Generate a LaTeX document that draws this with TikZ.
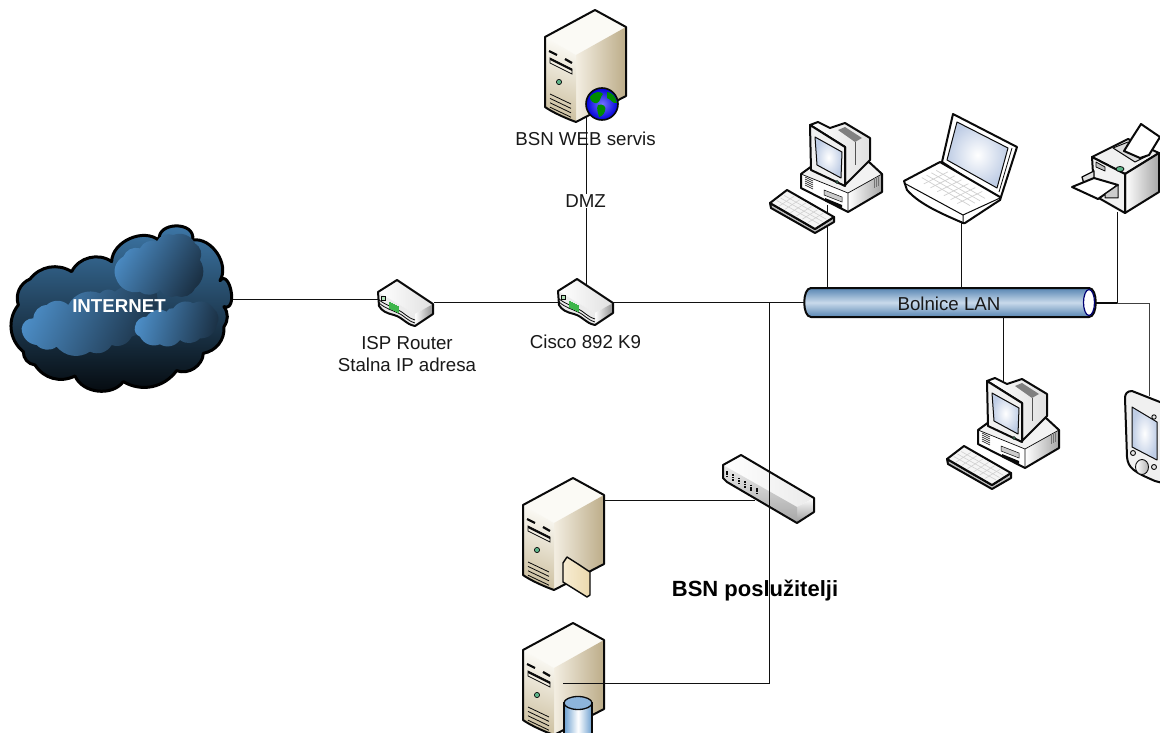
\documentclass[tikz,border=0pt]{standalone}
\usepackage{fontspec}
\setmainfont{Liberation Sans}
\usetikzlibrary{calc}
\definecolor{ink}{HTML}{0A0A0A}
\definecolor{wire}{HTML}{111111}
\definecolor{beigeA}{HTML}{FBFAF5}
\definecolor{beigeB}{HTML}{F3EEE2}
\definecolor{beigeC}{HTML}{CDC0A0}
\definecolor{beigeD}{HTML}{BCAC88}
\definecolor{skyA}{HTML}{4C8DC6}
\definecolor{skyB}{HTML}{1B3145}
\definecolor{cloudTop}{HTML}{3E79AA}
\definecolor{cloudBot}{HTML}{04080B}
\definecolor{lanEdge}{HTML}{5785B2}
\definecolor{lanMid}{HTML}{C9DAEB}
\definecolor{keyLine}{HTML}{D0D0D0}
\definecolor{screenBlue}{HTML}{BFCDE5}
\definecolor{ledGreen}{HTML}{5FB58A}
\definecolor{portGreen}{HTML}{3DB54A}
\definecolor{folderA}{HTML}{F7ECD2}
\definecolor{folderB}{HTML}{EBD9AE}
\definecolor{dbBlue}{HTML}{6C9FCF}
\definecolor{dbTop}{HTML}{8DB5DC}
\tikzset{
  conn/.style={draw=wire,line width=1pt},
  outl/.style={draw=ink,line width=2pt,line join=round},
  thin outl/.style={draw=ink,line width=1pt,line join=round},
  lbl/.style={font=\fontsize{18.7pt}{22.5pt}\selectfont,inner sep=0pt,text=black!90},
  bold lbl/.style={font=\fontsize{18.7pt}{22pt}\selectfont\bfseries,inner sep=0pt},
  hub/.style={inner sep=0pt,minimum size=0pt},
  lobes/.style={bend left=42},
  serverbody/.pic={
    \fill[beigeA] (545,37)--(595,10)--(626,27)--(576,55)--cycle;
    \path[left color=beigeB,right color=beigeD] (576,55)--(626,27)--(626,96)--(576,122)--cycle;
    \path[top color=beigeA,bottom color=beigeC,shading angle=-20] (545,37)--(576,55)--(576,122) .. controls (565,118) and (552,112) .. (545,107)--cycle;
    \draw[outl] (545,37)--(595,10)--(626,27)--(626,96)--(576,122) .. controls (565,118) and (552,112) .. (545,107)--cycle;
    \draw[line width=2.2pt,ink] (549,51)--(557,55) (565,59)--(572,63);
    \draw[fill=beigeB,draw=ink,line width=.8pt] (550,58)--(572,69)--(572,74)--(550,63)--cycle;
    \fill[ink] (550,58)--(572,69)--(572,71)--(550,60)--cycle;
    \draw[draw=ink,fill=ledGreen,line width=.7pt] (559,82) circle (2.6);
    \foreach \i in {0,4.4,8.8,13.2} \draw[ink,line width=.8pt] (550,94+\i)--(571,104+\i);
  },
  routerbox/.pic={
    \path[left color=white,right color=black!12] (558,291)--(577,279)--(613,303)--(595,313)--cycle;
    \path[left color=white,right color=black!45] (595,313)--(613,303)--(613,313)--(595,325)--cycle;
    \path[fill=black!8] (558,291)--(595,313)--(595,325)
      .. controls (585,323) and (584,315) .. (574,313) .. controls (566,312) and (562,310) .. (559,305)--cycle;
    \draw[outl] (558,291)--(577,279)--(613,303)--(613,313)--(595,325)
      .. controls (585,323) and (584,317) .. (574,314) .. controls (566,312) and (562,310) .. (559,305)--cycle;
    \draw[ink,line width=.8pt] (559,299) .. controls (566,304) and (572,306) .. (578,309) .. controls (585,312) and (586,316) .. (595,319);
    \draw[ink,line width=.8pt] (559,302) .. controls (566,308) and (572,309) .. (578,312) .. controls (585,315) and (586,319) .. (595,322);
    \draw[ink,fill=portGreen!40,line width=.6pt] (561,295) rectangle (565,299);
    \foreach \i in {0,2,4,6,8} \draw[portGreen,line width=1.1pt] (570+\i,301+\i*.5)--(570+\i,308+\i*.5);
  },
  pcset/.pic={
    % base
    \fill[black!5] (801,174)--(812,166)--(869,162)--(882,174)--(848,193)--cycle;
    \path[left color=white,right color=black!35] (848,193)--(882,174)--(882,192)--(848,212)--cycle;
    \fill[white] (801,174)--(848,193)--(848,212)--(801,188)--cycle;
    \draw[outl] (801,174)--(812,166)--(869,162)--(882,174)--(882,192)--(848,212)--(801,188)--cycle;
    \draw[ink,line width=.7pt] (801,174)--(848,193)--(848,212) (848,193)--(882,174);
    \foreach \i in {0,2,4,6,8} \draw[ink,line width=.6pt] (805,177+\i)--(813,181+\i);
    \draw[ink,fill=black!20,line width=.5pt] (824,190)--(842,197)--(842,202)--(824,195)--cycle;
    \fill[ink] (825,198)--(842,205)--(842,208)--(825,201)--cycle;
    \foreach \i in {0,2,4} \draw[black!55,line width=.9pt] (874+\i,178-\i*.5)--(874+\i,188-\i*.5);
    % monitor
    \draw[outl,left color=white,right color=black!12] (845,147)--(810,125)--(818,122)--(830,128)--(845,123)--(870,138)--(870,160)--(845,185)--cycle;
    \fill[black!50] (838,130)--(845,127)--(862,138)--(855,142)--cycle;
    \draw[ink!70,line width=.8pt] (855,142)--(855,165);
    \draw[outl,fill=black!6] (810,125)--(845,147)--(845,186)--(811,170)--cycle;
    \draw[thin outl,inner color=white,outer color=screenBlue] (815,137)--(842,152)--(841,178)--(817,165)--cycle;
    \draw[ink,fill=ledGreen!70!black,line width=.5pt] (837,182) circle (1.6);
    % keyboard
    \draw[outl,fill=black!25] (770,203)--(815,229)--(834,217)--(834,222)--(815,233)--(771,208)--cycle;
    \draw[outl,fill=black!4] (770,203)--(787,190)--(834,217)--(815,229)--cycle;
    \foreach \t in {.25,.5,.75}
      \draw[keyLine,line width=.6pt] ($(773,203)!\t!(788,193)$)--($(815,226)!\t!(830,217)$);
    \foreach \t in {.14,.28,.42,.56,.70,.84}
      \draw[keyLine,line width=.6pt] ($(773,203)!\t!(815,226)$)--($(788,193)!\t!(830,217)$);
  }
}
\begin{document}
\begin{tikzpicture}[x=1pt,y=-1pt]
\path[use as bounding box,fill=white] (0,0) rectangle (1160,733);

% anchors of the connectors
\coordinate (cloudE) at (233,299);
\coordinate (r1W) at (378,299);
\coordinate (r1E) at (434,302);
\coordinate (r2W) at (558,302);
\coordinate (r2E) at (613,302);
\coordinate (r2N) at (586,285);
\coordinate (webS) at (586,117);
\coordinate (lanW) at (805,302);
\coordinate (lanE) at (1096,303);
\coordinate (jA) at (769,302);
\coordinate (jB) at (769,683);
\coordinate (dbE) at (563,683);
\coordinate (srvE) at (604,500);
\coordinate (swW) at (755,500);
\coordinate (pcAS) at (827,205);
\coordinate (lanA) at (827,289);
\coordinate (lapS) at (961,221);
\coordinate (lanB) at (961,289);
\coordinate (prnS) at (1117,212);
\coordinate (jC) at (1117,303);
\coordinate (jD) at (1149,303);
\coordinate (pdaN) at (1149,396);
\coordinate (lanC) at (1003,317);
\coordinate (pcBN) at (1003,382);

\draw[conn] (pcAS)--(lanA);

% ---- cloud
\begin{scope}[shift={(0,210)},x=.3333pt,y=-.3333pt]
  \draw[line width=3pt,draw=black,line join=round,top color=cloudTop,bottom color=cloudBot]
    (55,285) to[lobes] (90,207) to[lobes] (215,185) to[bend left=50] (335,155) to[bend left=65] (478,92)
    to[out=100,in=80,looseness=1.5] (578,90) to[bend left=65] (660,212) to[out=50,in=-20,looseness=1.5] (672,290) to[bend left=35] (672,350)
    to[lobes] (610,430) to[bend left=55] (530,482) to[lobes] (370,515) to[bend left=60] (225,498)
    to[lobes] (105,465) to[lobes] (70,425) to[bend left=45] (55,285) -- cycle;
  \path[left color=skyA,right color=skyB,shading angle=65]
    (65,355) to[lobes] (100,325) to[lobes] (140,285) to[lobes] (205,285) to[lobes] (300,250)
    to[lobes] (345,245) to[lobes] (470,250) to[lobes] (395,380) to[lobes] (335,405)
    to[lobes] (270,425) to[lobes] (170,410) to[lobes] (110,405) to[lobes] (65,355) -- cycle;
  \path[left color=skyA,right color=skyB,shading angle=60]
    (348,205) to[lobes] (370,140) to[lobes] (420,115) to[lobes] (470,95) to[lobes] (520,75)
    to[lobes] (585,100) to[lobes] (600,150) to[lobes] (585,235) to[lobes] (530,258)
    to[lobes] (480,240) to[lobes] (420,245) to[lobes] (348,205) -- cycle;
  \path[left color=skyA,right color=skyB,shading angle=75]
    (405,350) to[lobes] (440,320) to[lobes] (500,305) to[lobes] (520,295) to[lobes] (580,280)
    to[lobes] (640,295) to[lobes] (650,345) to[lobes] (600,385) to[lobes] (540,390)
    to[lobes] (480,403) to[lobes] (420,380) to[lobes] (405,350) -- cycle;
\end{scope}
\node[bold lbl,text=white,hub] (inet) at (119,306) {INTERNET};

% ---- servers
\pic at (0,0) {serverbody};
\pic at (-22,468) {serverbody};
\pic at (-22,613) {serverbody};

% globe
\draw[line width=1.6pt,draw=ink,inner color=blue!55!white,outer color=blue!85!black] (602,104) circle (16);
\begin{scope}
  \clip (602,104) circle (15);
  \fill[green!55!black] (590,97) .. controls (594,91) and (601,91) .. (603,94) .. controls (600,97) and (601,101) .. (597,103) .. controls (594,104) and (590,101) .. (590,97)--cycle;
  \fill[green!55!black] (607,92) .. controls (612,92) and (616,97) .. (617,103) .. controls (612,104) and (611,99) .. (607,98)--cycle;
  \fill[green!55!black] (598,105) .. controls (603,103) and (607,107) .. (605,111) .. controls (604,115) and (600,117) .. (599,117) .. controls (598,112) and (596,109) .. (598,105)--cycle;
\end{scope}

% folder
\draw[line width=1.4pt,draw=ink,line join=round,left color=folderA,right color=folderB]
  (563,582)--(563,563)--(567,557)--(578,564)--(590,572)--(590,595)--(587,597)--cycle;

% database
\draw[line width=1.3pt,draw=ink,left color=dbBlue,right color=dbBlue,middle color=white]
  (564,703)--(564,740)--(592,740)--(592,703)--cycle;
\draw[line width=1.3pt,draw=ink,fill=dbTop] (578,703) ellipse (14 and 6.5);

% ---- routers
\pic at (-180,1) {routerbox};
\pic at (0,0) {routerbox};

% ---- switch
\path[left color=white,right color=black!8] (723,465)--(741,455)--(814,498)--(797,507)--cycle;
\path[top color=white,bottom color=black!40] (814,498)--(814,512)--(797,523)--(797,507)--cycle;
\path[top color=black!8,bottom color=black!35] (723,465)--(797,507)--(797,523)--(727,482)--(723,478)--cycle;
\draw[outl] (723,465)--(741,455)--(814,498)--(814,512)--(797,523)--(727,482)--(723,478)--cycle;
\foreach \i in {0,1,2,3,4,5}
  \draw[ink,line width=1.2pt,dash pattern=on 1.6pt off .8pt] (727+\i*6,471+\i*3.4)--(727+\i*6,478+\i*3.4);

% ---- LAN pipe
\draw[line width=2pt,draw=ink,top color=lanEdge,bottom color=lanEdge,middle color=lanMid]
  (811,288)--(1089,288) .. controls (1098,288) and (1098,317) .. (1089,317)
  --(811,317) .. controls (802,317) and (802,288) .. (811,288)--cycle;
\draw[line width=1.2pt,draw=blue!45!black,fill=white] (1089,302.5) ellipse (5.5 and 13);
\node[lbl,hub] (lanT) at (949,304) {Bolnice LAN};

% ---- PCs
\pic at (0,0) {pcset};
\pic at (177,256) {pcset};

% ---- laptop
\draw[outl,fill=white] (953,114)--(1017,147)--(1000,200)--(942,162)--cycle;
\draw[thin outl,inner color=white,outer color=screenBlue] (957,122)--(1008,148)--(997,188)--(947,160)--cycle;
\draw[ink,line width=.8pt] (1012,148)--(999,192);
\draw[outl,fill=white] (904,181)--(940,162)--(1000,197)--(1000,200)--(965,223)--(963,223)
  .. controls (945,215) and (920,205) .. (907,190)--cycle;
\draw[ink,line width=1pt] (904,183)--(963,215)--(963,223) (963,215)--(1000,198);
\foreach \t in {.2,.4,.6,.8}
  \draw[keyLine,line width=.7pt] ($(917,180)!\t!(941,168)$)--($(965,208)!\t!(990,196)$);
\foreach \t in {.14,.28,.42,.56,.70,.84}
  \draw[keyLine,line width=.7pt] ($(917,180)!\t!(965,208)$)--($(941,168)!\t!(990,196)$);

% ---- printer
\draw[outl,fill=black!6] (1092,157)--(1128,139)--(1159,153)--(1125,174)--cycle;
\draw[thin outl,fill=black!14] (1113,148)--(1128,142)--(1147,156)--(1135,162)--cycle;
\draw[outl,fill=white] (1124,151)--(1132,138)--(1141,124)--(1160,137)--(1149,155)--(1140,158)--cycle;
\draw[outl,left color=white,right color=black!35] (1125,174)--(1159,153)--(1159,192)--(1125,213)--cycle;
\draw[outl,fill=black!5] (1092,157)--(1125,174)--(1125,213)--(1097,197)--(1094,190)--cycle;
\draw[thin outl,line width=.8pt,fill=black!25] (1096,162)--(1105,167)--(1105,171)--(1096,167)--cycle;
\draw[ink,fill=ledGreen,line width=.8pt] (1120,169) ellipse (4 and 2.5);
\draw[thin outl,line width=1.3pt,fill=black!12] (1082,177)--(1094,171)--(1094,180)--(1084,184)--cycle;
\draw[outl,fill=white] (1072,187)--(1094,178)--(1118,185)--(1098,199)--cycle;
\draw[thin outl,fill=black!20] (1105,194)--(1118,185)--(1118,198)--(1105,198)--cycle;

% ---- PDA
\draw[outl,fill=black!6] (1132,391) .. controls (1127,391) and (1125,394) .. (1125,398)
  --(1127,457) .. controls (1128,468) and (1134,472) .. (1155,481)--(1170,485)--(1170,406)--cycle;
\draw[thin outl,inner color=white,outer color=screenBlue] (1132,407)--(1157,422)--(1157,460)--(1132,447)--cycle;
\draw[ink,fill=black!10,line width=.9pt] (1154,417) circle (2.2) (1133,453) circle (2.5) (1154,467) circle (2.5);
\draw[ink,line width=.9pt,left color=white,right color=black!30] (1142,467) ellipse (6.5 and 7.5);

% ---- labels under the lines
\node[lbl,hub] (webL) at (585.5,139) {BSN WEB servis};
\node[lbl,hub,align=center] (ispL) at (407,354) {ISP Router\\Stalna IP adresa};
\node[lbl,hub] (ciscoL) at (585.5,342) {Cisco 892 K9};
\node[hub,font=\fontsize{22pt}{24pt}\selectfont\bfseries] (bsnL) at (755,591) {BSN poslužitelji};

% ---- connectors
\draw[conn] (cloudE)--(r1W);
\draw[conn] (r1E)--(r2W);
\draw[conn] (r2E)--(lanW);
\draw[conn] (r2N)--(webS);
\draw[conn] (jA)--(jB)--(dbE);
\draw[conn] (srvE)--(swW);
\draw[conn] (lapS)--(lanB);
\draw[conn] (prnS)--(jC);
\draw[line width=2.4pt,draw=ink] (lanE)--(jC);
\draw[conn,draw=black!75] (jC)--(jD)--(pdaN);
\draw[conn] (lanC)--(pcBN);
\node[lbl,fill=white,inner ysep=1pt,inner xsep=0pt] (dmz) at (585.5,201) {DMZ};
\end{tikzpicture}
\end{document}
